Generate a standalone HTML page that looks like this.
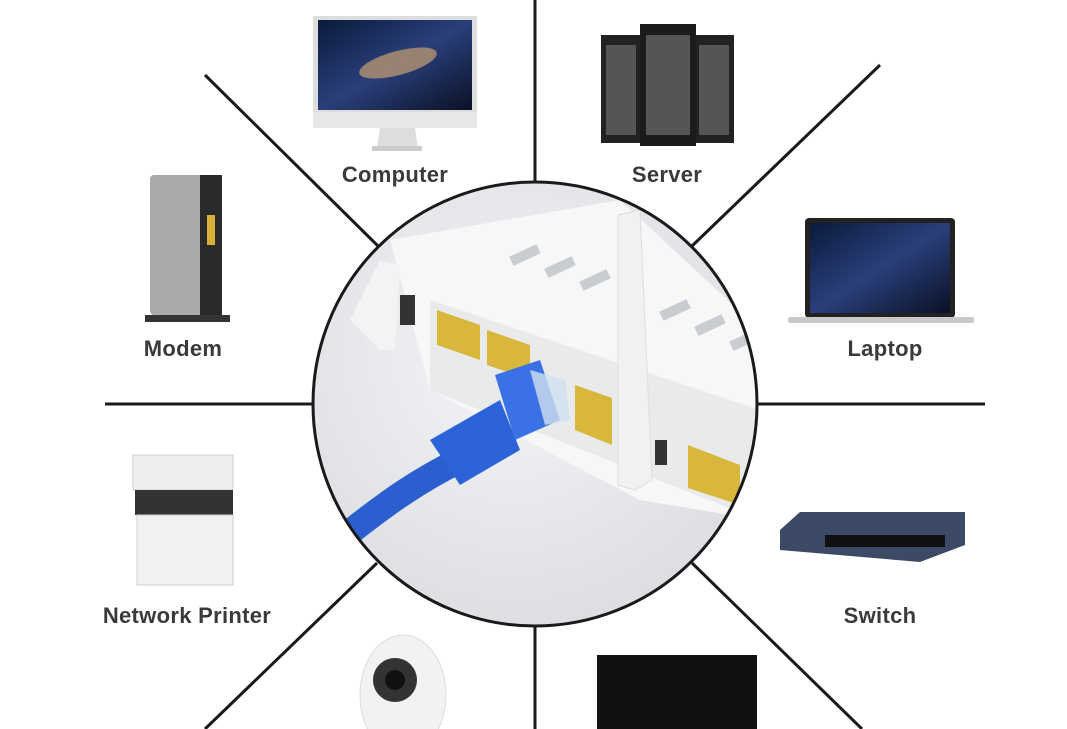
<!DOCTYPE html>
<html><head><meta charset="utf-8"><style>
html,body{margin:0;padding:0;background:#fff;}
body{width:1067px;height:729px;position:relative;overflow:hidden;font-family:"Liberation Sans",sans-serif;}
.lbl{position:absolute;font-size:22px;font-weight:bold;color:#3a3a3a;transform:translateX(-50%);white-space:nowrap;letter-spacing:0.3px}
.abs{position:absolute}
</style></head><body>
<svg class="abs" style="left:0;top:0" width="1067" height="729">
<defs>
<radialGradient id="cg" cx="0.45" cy="0.4" r="0.7"><stop offset="0" stop-color="#f4f5f7"/><stop offset="1" stop-color="#d9dbdf"/></radialGradient>
<linearGradient id="scr" x1="0" y1="0" x2="1" y2="1"><stop offset="0" stop-color="#0a1a3a"/><stop offset="0.5" stop-color="#2a3f7a"/><stop offset="1" stop-color="#0a1025"/></linearGradient>
<clipPath id="cc"><circle cx="535" cy="404" r="222"/></clipPath>
</defs>
<g stroke="#1a1a1a" stroke-width="3">
<line x1="535" y1="0" x2="535" y2="183"/>
<line x1="535" y1="625" x2="535" y2="729"/>
<line x1="105" y1="404" x2="313" y2="404"/>
<line x1="757" y1="404" x2="985" y2="404"/>
<line x1="205" y1="75" x2="378" y2="246"/>
<line x1="880" y1="65" x2="692" y2="246"/>
<line x1="205" y1="729" x2="377" y2="563"/>
<line x1="862" y1="729" x2="692" y2="563"/>
</g>
<circle cx="535" cy="404" r="222" fill="url(#cg)"/>
<g clip-path="url(#cc)">
<polygon points="390,240 620,200 760,330 760,520 640,500 430,390" fill="#f7f7f8"/>
<polygon points="430,300 760,410 760,520 430,390" fill="#e9eaec"/>
<g fill="#c9ccd0"><rect x="510" y="250" width="30" height="10" transform="rotate(-25 525 255)"/><rect x="545" y="262" width="30" height="10" transform="rotate(-25 560 267)"/><rect x="580" y="275" width="30" height="10" transform="rotate(-25 595 280)"/><rect x="660" y="305" width="30" height="10" transform="rotate(-25 675 310)"/><rect x="695" y="320" width="30" height="10" transform="rotate(-25 710 325)"/><rect x="730" y="335" width="30" height="10" transform="rotate(-25 745 340)"/></g>
<g fill="#d9b63c"><polygon points="437,310 480,325 480,360 437,345"/><polygon points="487,330 530,345 530,380 487,365"/><polygon points="575,385 612,398 612,445 575,430"/><polygon points="688,445 740,465 740,505 688,488"/></g>
<polygon points="350,320 380,260 400,265 395,350 380,350" fill="#f3f3f3"/>
<rect x="400" y="295" width="15" height="30" fill="#333"/>
<polygon points="618,215 640,210 652,480 635,490 618,485" fill="#f1f1f1" stroke="#ddd"/>
<rect x="655" y="440" width="12" height="25" fill="#333"/>
<path d="M340,540 C390,500 420,480 460,460" stroke="#2b5fd0" stroke-width="26" fill="none"/>
<polygon points="430,440 500,400 520,450 460,485" fill="#2d63d8"/>
<polygon points="495,375 540,360 560,420 515,440" fill="#3a72e6"/>
<polygon points="530,370 565,380 570,420 545,425" fill="#cfe0f0" opacity="0.8"/>
</g>
<circle cx="535" cy="404" r="222" fill="none" stroke="#1a1a1a" stroke-width="3"/>
<!-- computer -->
<rect x="313" y="16" width="164" height="100" fill="#ddd" rx="2"/>
<rect x="318" y="20" width="154" height="90" fill="url(#scr)"/>
<ellipse cx="398" cy="63" rx="40" ry="12" fill="#c8a070" opacity="0.7" transform="rotate(-15 398 63)"/>
<rect x="313" y="112" width="164" height="16" fill="#e8e8e8"/>
<polygon points="380,128 415,128 418,148 377,148" fill="#ddd"/>
<rect x="372" y="146" width="50" height="5" fill="#ccc"/>
<!-- server -->
<rect x="601" y="35" width="40" height="108" fill="#222"/>
<rect x="694" y="35" width="40" height="108" fill="#222"/>
<rect x="640" y="24" width="56" height="122" fill="#1b1b1b"/>
<g fill="#555"><rect x="606" y="45" width="30" height="90"/><rect x="699" y="45" width="30" height="90"/><rect x="646" y="35" width="44" height="100"/></g>
<!-- modem -->
<rect x="150" y="175" width="55" height="140" fill="#aaa" rx="4"/>
<rect x="200" y="175" width="22" height="140" fill="#2a2a2a"/>
<rect x="207" y="215" width="8" height="30" fill="#d6b03a"/>
<rect x="145" y="315" width="85" height="7" fill="#333"/>
<!-- laptop -->
<rect x="805" y="218" width="150" height="100" fill="#222" rx="4"/>
<rect x="810" y="223" width="140" height="90" fill="url(#scr)"/>
<rect x="788" y="317" width="186" height="6" fill="#c9c9c9" rx="2"/>
<!-- printer -->
<rect x="133" y="455" width="100" height="35" fill="#eee" stroke="#ccc"/>
<rect x="135" y="490" width="98" height="25" fill="#333"/>
<rect x="137" y="515" width="96" height="70" fill="#f1f1f1" stroke="#ccc"/>
<!-- switch -->
<polygon points="780,530 800,512 965,512 965,545 920,562 780,550" fill="#3c4a66"/>
<rect x="825" y="535" width="120" height="12" fill="#111"/>
<!-- camera -->
<ellipse cx="403" cy="695" rx="43" ry="60" fill="#f2f2f2" stroke="#ddd"/>
<circle cx="395" cy="680" r="22" fill="#333"/>
<circle cx="395" cy="680" r="10" fill="#111"/>
<!-- tv -->
<rect x="597" y="655" width="160" height="80" fill="#111"/>
</svg>
<div class="lbl" style="left:395px;top:162px">Computer</div>
<div class="lbl" style="left:667px;top:162px">Server</div>
<div class="lbl" style="left:183px;top:336px">Modem</div>
<div class="lbl" style="left:885px;top:336px">Laptop</div>
<div class="lbl" style="left:187px;top:603px">Network Printer</div>
<div class="lbl" style="left:880px;top:603px">Switch</div>
</body></html>
